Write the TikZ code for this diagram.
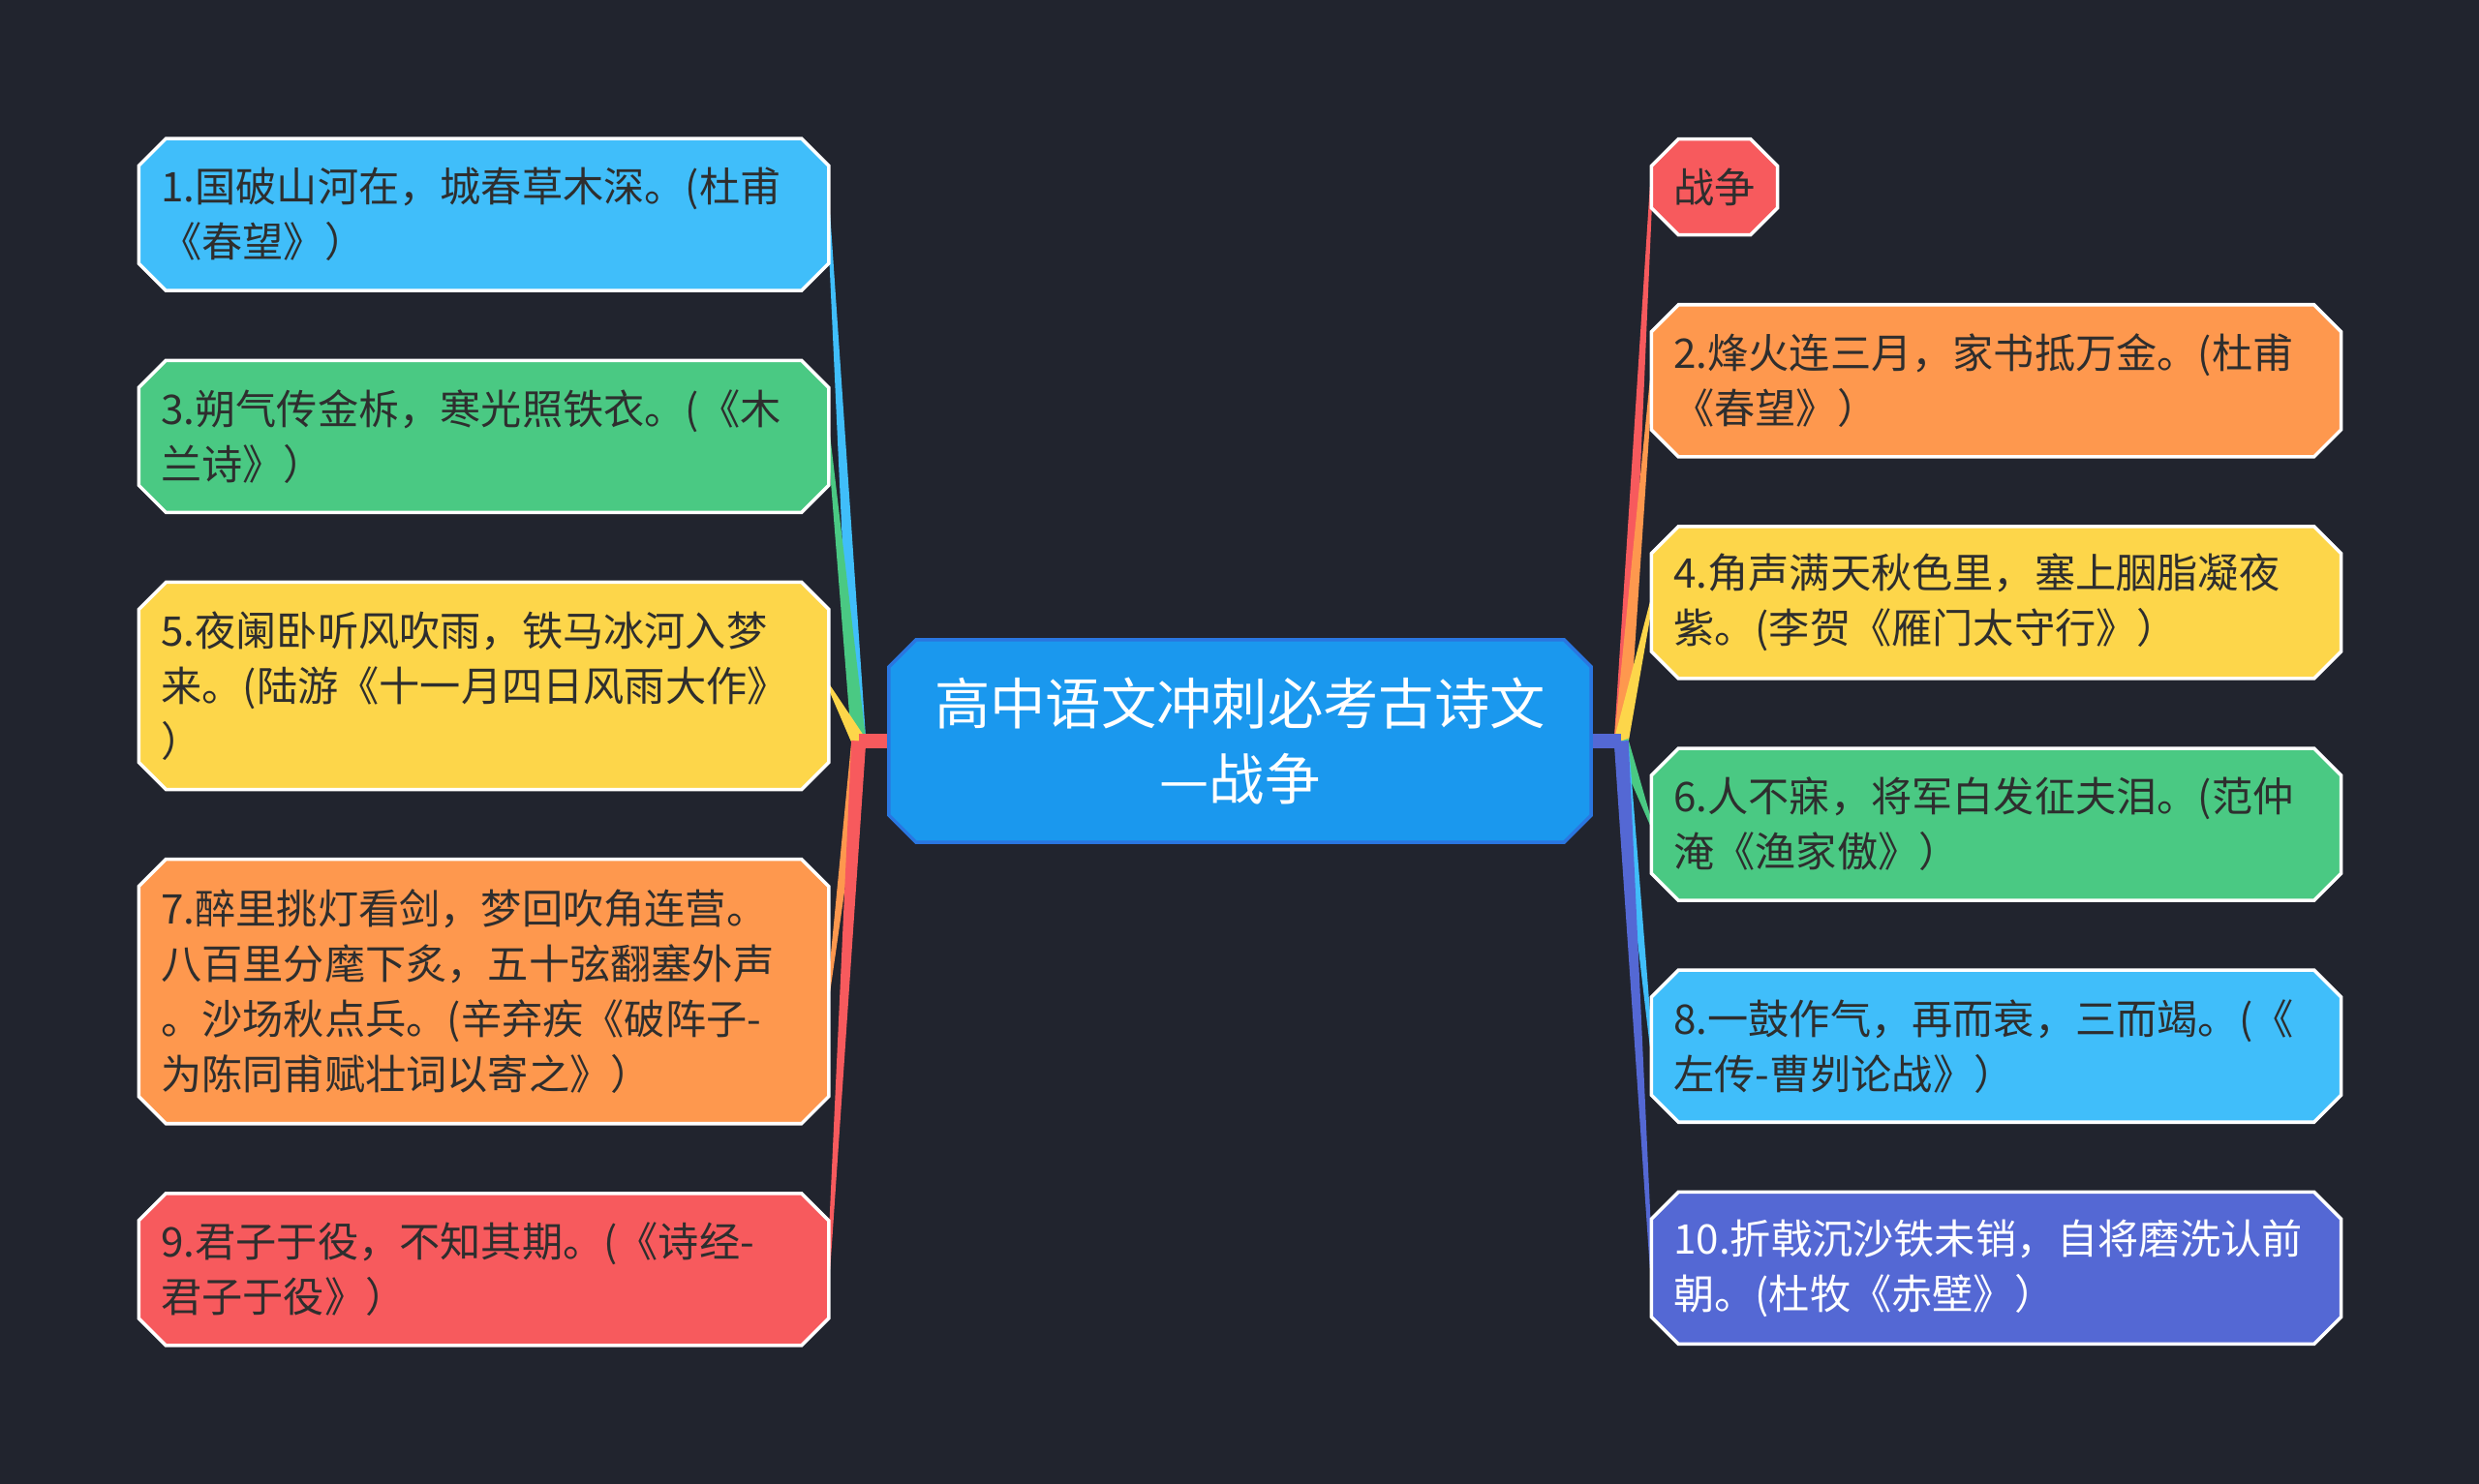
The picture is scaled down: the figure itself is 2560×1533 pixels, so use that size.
\documentclass[tikz,border=0pt]{standalone}
\usepackage{fontspec}
\setmainfont{Noto Sans CJK SC}
\usetikzlibrary{positioning,calc,shapes.misc}
\pgfdeclarelayer{bg}
\pgfsetlayers{bg,main}

\definecolor{bgnight}{RGB}{33,36,46}
\definecolor{c-sky}{RGB}{64,190,250}
\definecolor{c-mint}{RGB}{74,201,131}
\definecolor{c-sun}{RGB}{253,214,74}
\definecolor{c-peach}{RGB}{254,152,78}
\definecolor{c-rose}{RGB}{247,90,93}
\definecolor{c-indigo}{RGB}{84,104,212}
\definecolor{c-root}{RGB}{26,152,238}
\definecolor{c-rootedge}{RGB}{42,118,224}
\definecolor{c-ink}{RGB}{46,46,46}

\tikzstyle{mind map}=[
    x=0.01cm, y=-0.01cm, node distance=0.72cm and 0.62cm,
]
\tikzstyle{box}=[
    chamfered rectangle, chamfered rectangle xsep=0.14cm,
    chamfered rectangle ysep=0.14cm, inner xsep=0.09cm, inner ysep=0pt,
    outer sep=0pt,
]
\tikzstyle{poem}=[box, draw=white, line width=1pt, text=c-ink,
    text width=6.66cm, align=left, minimum width=7.12cm, minimum height=1.57cm,
    font=\fontsize{12}{16.2}\selectfont]
\tikzstyle{tag}=[box, draw=white, line width=1pt, text=c-ink,
    minimum width=1.3cm, minimum height=0.99cm, font=\fontsize{12}{16.2}\selectfont]
\tikzstyle{theme}=[box, fill=c-root, draw=c-rootedge, line width=1pt, text=white,
    align=center, minimum width=7.25cm, minimum height=2.09cm,
    font=\fontsize{16.3}{22}\selectfont]
\newcommand{\branch}[3]{%
    \fill[#3] ($(#1)!0.075cm!90:(#2)$) -- ($(#2)!0.015cm!-90:(#1)$)
        -- ($(#2)!0.015cm!90:(#1)$) -- ($(#1)!0.075cm!-90:(#2)$) -- cycle;}

\begin{document}
\begin{tikzpicture}[mind map]
    \useasboundingbox (0,0) rectangle (2560,1533);
    \node[theme] (root) at (1280.5,765.5) {高中语文冲刺必考古诗文\\—战争};

    % left column
    \node[poem, fill=c-sky, left=0.62cm of root.west, yshift=5.435cm] (p1)
        {1.国破山河在，城春草木深。(杜甫\\《春望》）};
    \node[poem, fill=c-mint, below=of p1] (p3)
        {3.朔气传金柝，寒光照铁衣。(《木\\兰诗》）};
    \node[poem, fill=c-sun, below=of p3, minimum height=2.14cm] (p5)
        {5.夜阑卧听风吹雨，铁马冰河入梦\\来。(陆游《十一月四日风雨大作》\\）};
    \node[poem, fill=c-peach, below=of p5, minimum height=2.73cm] (p7)
        {7.醉里挑灯看剑，梦回吹角连营。\\八百里分麾下炙，五十弦翻塞外声\\。沙场秋点兵。(辛弃疾《破阵子-\\为陈同甫赋壮词以寄之》）};
    \node[poem, fill=c-rose, below=of p7] (p9)
        {9.君子于役，不知其期。(《诗经-\\君子于役》）};

    % right column
    \node[tag, fill=c-rose, right=0.62cm of root.east, yshift=5.72cm] (war) {战争};
    \node[poem, fill=c-peach, right=0.62cm of root.east, yshift=3.72cm] (p2)
        {2.烽火连三月，家书抵万金。(杜甫\\《春望》）};
    \node[poem, fill=c-sun, below=of p2] (p4)
        {4.角声满天秋色里，塞上胭脂凝夜\\紫。(李贺《雁门太守行》）};
    \node[poem, fill=c-mint, below=of p4] (p6)
        {6.人不寐，将军白发征夫泪。(范仲\\淹《渔家傲》）};
    \node[poem, fill=c-sky, below=of p6] (p8)
        {8.一鼓作气，再而衰，三而竭。(《\\左传-曹刿论战》）};
    \node[poem, fill=c-indigo, text=white, below=of p8] (p10)
        {10.折戟沉沙铁未销，自将磨洗认前\\朝。(杜牧《赤壁》）};

    \coordinate (lj) at ($(root.west)+(-0.31cm,0)$);
    \coordinate (rj) at ($(root.east)+(0.31cm,0)$);

    \begin{pgfonlayer}{bg}
        \fill[bgnight] (0,0) rectangle (2560,1533);
        % branches
        \branch{lj}{p1.east}{c-sky}
        \branch{lj}{p3.east}{c-mint}
        \branch{lj}{p5.east}{c-sun}
        \branch{lj}{p7.east}{c-peach}
        \branch{lj}{p9.east}{c-rose}
        \draw[c-rose, line width=0.15cm] (lj) -- (root.west);
        \branch{rj}{war.west}{c-rose}
        \branch{rj}{p2.west}{c-peach}
        \branch{rj}{p4.west}{c-sun}
        \branch{rj}{p6.west}{c-mint}
        \branch{rj}{p8.west}{c-sky}
        \branch{rj}{p10.west}{c-indigo}
        \draw[c-indigo, line width=0.15cm] (rj) -- (root.east);
    \end{pgfonlayer}
\end{tikzpicture}
\end{document}
